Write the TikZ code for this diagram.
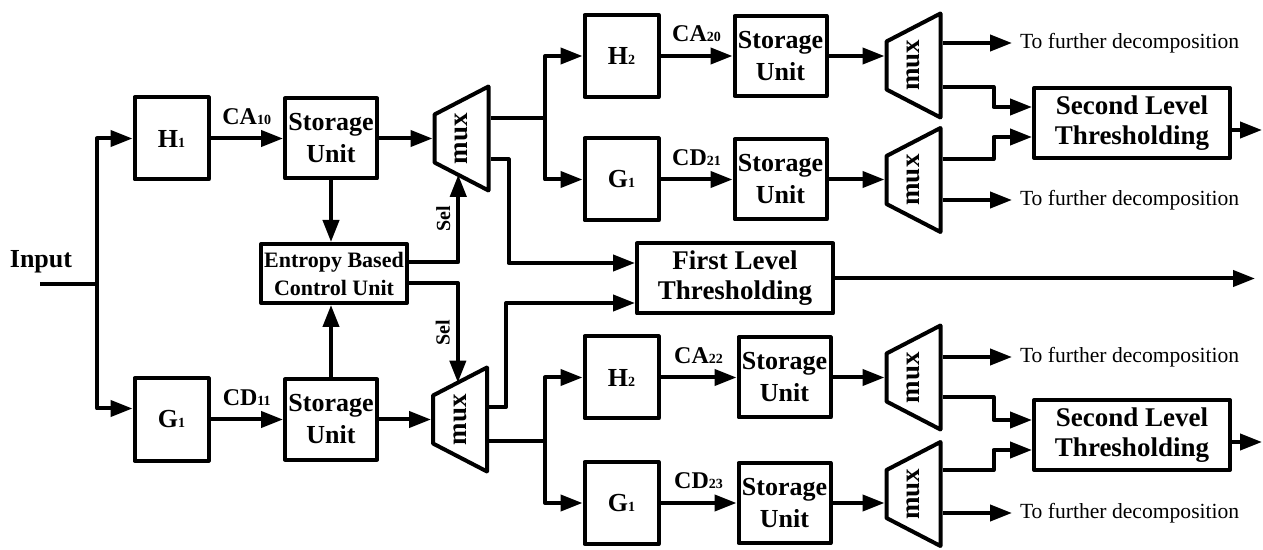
\documentclass[tikz,border=0pt]{standalone}
\usepackage{fontspec}
\setmainfont{Liberation Serif}
\usepackage{graphicx}
\usetikzlibrary{arrows.meta,calc,positioning}
\newcommand{\smallidx}[1]{{\fontsize{7}{7}\selectfont #1}}
\newcommand{\muxunit}[2]{%
  \node[muxnode] (#1) at (#2) {\rotatebox{90}{mux}};
  \coordinate (#1-tl) at ($(#1.center)+(-27,-24)$);
  \coordinate (#1-bl) at ($(#1.center)+(-27,24)$);
  \coordinate (#1-tr) at ($(#1.center)+(27,-52)$);
  \coordinate (#1-br) at ($(#1.center)+(27,52)$);
  \draw (#1-tl) -- (#1-tr) -- (#1-br) -- (#1-bl) -- cycle;}

\begin{document}
\begin{tikzpicture}[x=0.5pt, y=-0.5pt, line width=2pt, line join=round,
  >={Triangle[length=11pt,width=8pt]},
  box/.style={draw, align=center, inner sep=1pt, font=\bfseries\fontsize{13}{16}\selectfont},
  filt/.style={box, minimum width=37pt, minimum height=41pt},
  store/.style={box, minimum width=46pt, minimum height=40pt},
  thresh/.style={box, minimum width=98pt, minimum height=35pt, font=\bfseries\fontsize{13.5}{15}\selectfont},
  ctrl/.style={box, minimum width=73pt, minimum height=29.5pt, font=\bfseries\fontsize{11}{14}\selectfont},
  muxnode/.style={inner sep=0pt, minimum width=27pt, minimum height=52pt, font=\bfseries\fontsize{13.5}{14}\selectfont},
  lbl/.style={font=\bfseries\fontsize{12}{12}\selectfont, inner sep=2pt},
  sellbl/.style={rotate=90, anchor=south, inner sep=3pt, font=\bfseries\fontsize{10}{10}\selectfont},
  further/.style={anchor=west, inner sep=3pt, font=\fontsize{10.8}{12}\selectfont}]
  \useasboundingbox (0,0) rectangle (1263,550);
  \node[font=\bfseries\fontsize{13}{13}\selectfont] (inlabel) at (41,262) {Input};
  \coordinate (inp) at (40,284);
  \coordinate (fork) at (97,284);
  \node[filt] (h1) at (171.5,138.5) {H\smallidx{1}};
  \node[filt] (g1) at (171.5,419.5) {G\smallidx{1}};
  \node[store] (su1) at (331,138.5) {Storage\\Unit};
  \node[store] (su2) at (331,419.5) {Storage\\Unit};
  \node[ctrl] (ebcu) at (334,273.5) {Entropy Based\\Control Unit};
  \muxunit{mux1}{461.5,138.5}
  \muxunit{mux2}{460,419.5}
  \node[filt] (h2a) at (621.5,56) {H\smallidx{2}};
  \node[filt] (g1a) at (621.5,179.5) {G\smallidx{1}};
  \node[filt] (h2b) at (621.5,377.5) {H\smallidx{2}};
  \node[filt] (g1b) at (621.5,503) {G\smallidx{1}};
  \node[store] (su20) at (780.5,56) {Storage\\Unit};
  \node[store] (su21) at (780.5,179.5) {Storage\\Unit};
  \node[store] (su22) at (784.5,377.5) {Storage\\Unit};
  \node[store] (su23) at (784.5,503) {Storage\\Unit};
  \node[thresh] (flt) at (735,278.5) {First Level\\Thresholding};
  \muxunit{mux3}{913.5,65.5}
  \muxunit{mux4}{913.5,180}
  \muxunit{mux5}{913.5,377.5}
  \muxunit{mux6}{913.5,494}
  \node[thresh] (slt1) at (1132,123) {Second Level\\Thresholding};
  \node[thresh] (slt2) at (1132,435) {Second Level\\Thresholding};
  \node[further] (tf1) at (1012,43) {To further decomposition};
  \node[further] (tf2) at (1012,200) {To further decomposition};
  \node[further] (tf3) at (1012,357) {To further decomposition};
  \node[further] (tf4) at (1012,513) {To further decomposition};
  \coordinate (sp1) at (545,118);
  \coordinate (sp2) at (545,441);
  \coordinate (fltout) at (1255,278.5);
  \coordinate (out1) at (1262,130);
  \coordinate (out2) at (1262,442);
  % first level
  \draw (inp) -- (fork);
  \draw[->] (fork) |- (h1);
  \draw[->] (fork) |- ($(g1.west)+(0,-11)$);
  \draw[->] (h1) -- (su1) node[midway, above=4pt, lbl] {CA\smallidx{10}};
  \draw[->] (g1) -- (su2) node[midway, above=4pt, lbl] {CD\smallidx{11}};
  \draw[->] (su1) -- (mux1.west);
  \draw[->] (su2) -- (mux2.west);
  \draw[->] (su1.south) -- (su1.south |- ebcu.north);
  \draw[->] (su2.north) -- (su2.north |- ebcu.south);
  \draw[->] ($(ebcu.east)+(0,-11.5)$) -| ($(mux1-bl)!0.44!(mux1-br)$) node[pos=0.75, sellbl] {Sel};
  \draw[->] ($(ebcu.east)+(0,9.5)$) -| ($(mux2-tl)!0.46!(mux2-tr)$) node[pos=0.75, sellbl] {Sel};
  \draw ($(mux1.east)+(0,-20.5)$) -- (sp1);
  \draw[->] (sp1) |- (h2a);
  \draw[->] (sp1) |- (g1a);
  \draw[->] ($(mux1.east)+(0,21)$) -- ++(18,0) |- ($(flt.west)+(0,-15.5)$);
  \draw[->] ($(mux2.east)+(0,-12.5)$) -- ++(17,0) |- ($(flt.west)+(0,24.5)$);
  \draw ($(mux2.east)+(0,21.5)$) -- (sp2);
  \draw[->] (sp2) |- (h2b);
  \draw[->] (sp2) |- (g1b);
  \draw[->] (flt) -- (fltout);
  % second level
  \draw[->] (h2a) -- (su20) node[midway, above=4pt, lbl] {CA\smallidx{20}};
  \draw[->] (g1a) -- (su21) node[midway, above=4pt, lbl] {CD\smallidx{21}};
  \draw[->] (h2b) -- (su22) node[midway, above=4pt, lbl] {CA\smallidx{22}};
  \draw[->] (g1b) -- (su23) node[midway, above=4pt, lbl] {CD\smallidx{23}};
  \draw[->] (su20) -- (su20 -| mux3.west);
  \draw[->] (su21) -- (su21 -| mux4.west);
  \draw[->] (su22) -- (su22 -| mux5.west);
  \draw[->] (su23) -- (su23 -| mux6.west);
  \draw[->] ($(mux3.east)+(0,-22.5)$) -- (tf1);
  \draw[->] ($(mux3.east)+(0,21.5)$) -- ++(51,0) |- ($(slt1.west)+(0,-16)$);
  \draw[->] ($(mux4.east)+(0,-21)$) -- ++(51,0) |- ($(slt1.west)+(0,14)$);
  \draw[->] ($(mux4.east)+(0,20)$) -- (tf2);
  \draw[->] ($(mux5.east)+(0,-20.5)$) -- (tf3);
  \draw[->] ($(mux5.east)+(0,19.5)$) -- ++(51,0) |- ($(slt2.west)+(0,-15)$);
  \draw[->] ($(mux6.east)+(0,-24)$) -- ++(51,0) |- ($(slt2.west)+(0,15)$);
  \draw[->] ($(mux6.east)+(0,19)$) -- (tf4);
  \draw[->] ($(slt1.east)+(0,7)$) -- (out1);
  \draw[->] ($(slt2.east)+(0,7)$) -- (out2);
\end{tikzpicture}
\end{document}
